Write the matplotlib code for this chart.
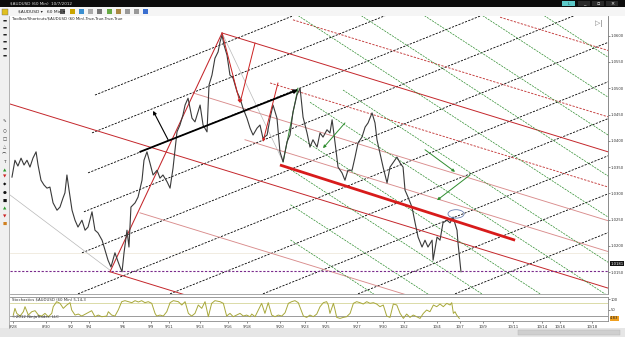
import matplotlib
matplotlib.use('Agg')
import matplotlib.pyplot as plt
from matplotlib.patches import Rectangle, Ellipse

W, H = 625, 337

# ---------------- data ----------------
date_labels = ['8/28', '8/30', '9/2', '9/4', '9/6', '9/9', '9/11', '9/13', '9/16', '9/18', '9/20',
               '9/23', '9/25', '9/27', '9/30', '10/2', '10/4', '10/7', '10/9', '10/11', '10/14',
               '10/16', '10/18']
date_pos = [0.18, 2.18, 3.70, 4.79, 6.85, 8.55, 9.64, 11.52, 13.21, 14.36, 16.36, 17.88, 19.15,
            21.03, 22.60, 23.88, 25.88, 27.27, 28.67, 30.48, 32.24, 33.33, 35.27]

price_day = [0.12, 0.30, 0.48, 0.67, 0.85, 1.03, 1.21, 1.39, 1.58, 1.70, 1.88, 2.06, 2.24, 2.42, 2.61,
             2.85, 3.03, 3.21, 3.33, 3.45, 3.58, 3.76, 3.94, 4.12, 4.36, 4.55, 4.73, 4.97, 5.15, 5.33,
             5.58, 5.76, 5.94, 6.12, 6.36, 6.55, 6.67, 6.79, 6.91, 7.09, 7.21, 7.33, 7.58, 7.76, 8.00,
             8.12, 8.30,
             8.48, 8.67, 8.91, 9.09, 9.27, 9.52, 9.70, 9.88, 10.12, 10.30, 10.48, 10.61, 10.79, 11.03,
             11.21, 11.39, 11.52, 11.70, 11.94, 12.06, 12.24, 12.42, 12.61, 12.73, 12.85, 12.97, 13.15,
             13.33, 13.52, 13.76, 13.94, 14.12, 14.36, 14.55, 14.73, 14.97, 15.15, 15.33, 15.58, 15.76,
             15.94, 16.18, 16.36, 16.55, 16.79, 16.97, 17.15, 17.39, 17.58,
             17.76, 18.00, 18.18, 18.36, 18.61, 18.79, 18.97, 19.21, 19.39, 19.52, 19.70, 19.88, 20.12,
             20.30, 20.48, 20.73, 20.91, 21.09, 21.33, 21.52, 21.70, 21.94, 22.12, 22.24, 22.42, 22.61,
             22.85, 23.03, 23.21, 23.45, 23.64, 23.82, 23.94, 24.12, 24.36, 24.55, 24.73, 24.97, 25.15,
             25.33, 25.58, 25.64, 25.88, 26.06, 26.24, 26.48, 26.67, 26.85, 27.09, 27.15, 27.27, 27.33]
price_val = [1.0331, 1.0363, 1.0352, 1.0367, 1.0354, 1.0363, 1.0350, 1.0367, 1.0379, 1.0354,
             1.0325, 1.0316, 1.0310, 1.0312, 1.0282, 1.0268, 1.0274, 1.0291, 1.0301, 1.0335,
             1.0306, 1.0268, 1.0249, 1.0236, 1.0249, 1.0230, 1.0236, 1.0265, 1.0230, 1.0225,
             1.0211, 1.0192, 1.0173, 1.0160, 1.0187, 1.0170, 1.0160, 1.0151, 1.0187, 1.0230,
             1.0198, 1.0274, 1.0282, 1.0293, 1.0325, 1.0363, 1.0379,
             1.0358, 1.0335, 1.0344, 1.0329, 1.0335, 1.0322, 1.0310, 1.0348, 1.0417, 1.0430,
             1.0449, 1.0468, 1.0481, 1.0443, 1.0436, 1.0455, 1.0468, 1.0430, 1.0417, 1.0506,
             1.0525, 1.0557, 1.0569, 1.0588, 1.0601, 1.0582, 1.0563, 1.0525, 1.0519, 1.0493,
             1.0481, 1.0462, 1.0443, 1.0424, 1.0411, 1.0424, 1.0430, 1.0405, 1.0411, 1.0443,
             1.0468, 1.0443, 1.0379, 1.0360, 1.0398, 1.0411, 1.0455, 1.0487, 1.0500,
             1.0445, 1.0415, 1.0388, 1.0402, 1.0388, 1.0415, 1.0407, 1.0421, 1.0415, 1.0440,
             1.0396, 1.0350, 1.0339, 1.0325, 1.0344, 1.0344, 1.0369, 1.0396, 1.0407, 1.0426,
             1.0434, 1.0453, 1.0434, 1.0402, 1.0377, 1.0350, 1.0320, 1.0350, 1.0358, 1.0369,
             1.0358, 1.0350, 1.0306, 1.0293, 1.0274, 1.0244, 1.0217, 1.0198, 1.0211, 1.0198,
             1.0211, 1.0173, 1.0217, 1.0211, 1.0244, 1.0249, 1.0244, 1.0255, 1.0230, 1.0206,
             1.0168, 1.0151]

stoch_day = [0.20, 0.30, 0.41, 0.61, 0.81, 0.91, 1.11, 1.32, 1.52, 1.72, 1.92, 2.12, 2.32, 2.53, 2.62,
             2.83, 3.03, 3.23, 3.44, 3.64, 3.74, 3.94, 4.14, 4.35, 4.65, 4.95, 5.15, 5.35, 5.56, 5.86,
             5.96, 6.16, 6.36, 6.56, 6.77, 6.97, 7.17, 7.38, 7.58, 7.78, 7.98, 8.18, 8.38, 8.59, 8.79,
             8.89, 9.09, 9.29, 9.50, 9.70, 9.90, 10.20, 10.41, 10.61, 10.81, 11.01, 11.21, 11.41, 11.62,
             11.82, 12.02, 12.22, 12.42, 12.73, 12.93, 13.13, 13.33, 13.53, 13.74, 13.94, 14.14, 14.34,
             14.55, 14.65, 14.85, 15.05, 15.25, 15.45, 15.65, 15.86, 16.06, 16.26, 16.47, 16.67, 16.87,
             17.07, 17.27, 17.47,
             17.78, 17.98, 18.18, 18.38, 18.59, 18.79, 18.99, 19.19, 19.29, 19.39, 19.60, 19.70, 19.80,
             20.00, 20.20, 20.40, 20.61, 20.81, 21.01, 21.21, 21.41, 21.62, 21.82, 22.02, 22.22, 22.42,
             22.62, 22.83, 23.03, 23.23, 23.44, 23.64, 23.84, 24.04, 24.24, 24.44, 24.65, 24.85, 25.05,
             25.25, 25.45, 25.66, 25.86, 26.06, 26.26, 26.47, 26.67, 26.77, 26.87, 26.97, 27.07, 27.23]
stoch_val = [24.5, 56.6, 32.5, 19.7, 40.5, 64.6, 24.5, 40.5, 45.4, 24.5, 19.7, 32.5, 16.5, 32.5, 64.6,
             88.6, 80.6, 56.6, 72.6, 83.8, 48.6, 24.5, 29.3, 19.7, 32.5, 45.4, 16.5, 24.5, 16.5, 19.7,
             40.5, 24.5, 19.7, 48.6, 88.6, 93.4, 88.6, 83.8, 93.4, 87.0, 93.4, 83.8, 88.6, 80.6, 32.5,
             19.7, 24.5, 19.7, 40.5, 83.8, 93.4, 88.6, 72.6, 88.6, 32.5, 19.7, 32.5, 72.6, 56.6,
             88.6, 16.5, 80.6, 93.4, 88.6, 80.6, 19.7, 32.5, 16.5, 24.5, 32.5, 19.7, 24.5,
             16.5, 29.3, 16.5, 48.6, 80.6, 32.5, 83.8, 24.5, 16.5, 24.5, 19.7, 35.7, 80.6,
             88.6, 93.4, 83.8,
             19.7, 13.3, 24.5, 16.5, 29.3, 64.6, 83.8, 88.6, 72.6, 32.5, 80.6, 48.6, 13.3,
             8.5, 13.3, 16.5, 32.5, 80.6, 88.6, 83.8, 77.4, 88.6, 80.6, 83.8, 77.4, 64.6,
             72.6, 19.7, 13.3, 77.4, 72.6, 32.5, 8.5, 29.3, 13.3, 24.5, 16.5, 8.5, 32.5,
             48.6, 40.5, 72.6, 64.6, 77.4, 64.6, 80.6, 72.6, 83.8, 32.5, 40.5, 24.5, 8.5]

price_ticks = [1.0150, 1.0200, 1.0250, 1.0300, 1.0350, 1.0400, 1.0450, 1.0500, 1.0550, 1.0600]
last_price = 1.0152
marker_price = 1.0166
marker_text = '1.0181'
bid_line = 1.0187

# pitchfork / channel lines: start (day, price), common slope per family (price per day)
black_slope = 0.001255
black_start_day = [5.15, 4.97, 4.73, 4.48, 4.36, 4.12, 9.70, 15.33, 21.09, 26.97]
black_start_price = [1.0487, 1.0415, 1.0339, 1.0265, 1.0187, 1.0109, 1.0109, 1.0109, 1.0109, 1.0109]

red_slope = -0.000966
red_solid_day = [0.00, 12.85, 6.06]
red_solid_price = [1.0470, 1.0605, 1.0151]
red_dash_day = [17.15, 29.70, 15.76]
red_dash_price = [1.0630, 1.0635, 1.0510]
pink_day = [11.09, 14.24, 7.88]
pink_price = [1.0491, 1.0402, 1.0263]

green_slope = -0.002039
green_ref_day = 23.64
green_ref_price = [1.0816, 1.0740, 1.0668, 1.0590, 1.0512, 1.0426, 1.0362, 1.0282, 1.0210, 1.0143, 1.0076]
green_start_day = [17.0, 17.0, 17.0, 17.0, 17.0, 20.18, 18.18, 17.27, 17.0, 17.0, 17.0]

end_day = 36.5

# hand-drawn segments (day, price)
thick_red = [(16.36, 1.0354), (30.61, 1.0211)]
red_handle = [(6.06, 1.0151), (12.85, 1.0605)]
red_arrows = [((12.85, 1.0605), (13.94, 1.0472)), ((14.85, 1.0586), (13.94, 1.0472)),
              ((16.24, 1.0510), (15.33, 1.0398))]
black_thick_arrow = ((7.88, 1.0379), (17.45, 1.0497))
black_arrow = ((9.58, 1.0402), (8.67, 1.0457))
green_handle = [(16.55, 1.0360), (17.45, 1.0500)]
green_arrows = [((20.30, 1.0434), (18.97, 1.0386)), ((25.15, 1.0383), (26.97, 1.0341)),
                ((27.88, 1.0335), (25.88, 1.0287))]
gray_lines = [((0.0, 1.0297), (6.06, 1.0154)), ((12.85, 1.0605), (16.55, 1.0360))]
ellipse_center = (27.03, 1.0261)

# ---------------- figure ----------------
fig = plt.figure(figsize=(6.25, 3.37), dpi=100)
fig.patch.set_facecolor('#efefef')
SYM = ['DejaVu Sans', 'Noto Sans CJK SC']


def box(x0, y0, x1, y1):
    return [x0 / W, 1 - y1 / H, (x1 - x0) / W, (y1 - y0) / H]


def rect(x0, y0, x1, y1, fc, ec='none', lw=0.0, z=0):
    fig.add_artist(Rectangle((x0 / W, 1 - y1 / H), (x1 - x0) / W, (y1 - y0) / H,
                             transform=fig.transFigure, facecolor=fc, edgecolor=ec, lw=lw, zorder=z))


def ftext(x, y, s, **kw):
    fig.text(x / W, 1 - y / H, s, **kw)


# window chrome
rect(0, 0, 625, 7, '#0c0c0c')
ftext(10, 3.6, '$AUDUSD (60 Min)  10/7/2012', color='#dddddd', fontsize=3, va='center')
rect(562, 1, 575, 6, '#5cc9c9')
ftext(568.5, 3.6, 'L', color='#1a4a4a', fontsize=3, ha='center', va='center')
for x0, g in [(578, '_'), (592, '▫'), (606, '×')]:
    rect(x0, 1, x0 + 12, 6, '#2a2a2a')
    ftext(x0 + 6, 3.6, g, color='white', fontsize=3.5, ha='center', va='center')
rect(0, 7, 625, 16, '#f5f5f5')
ftext(18, 11.6, '$AUDUSD ▾   60 Min ▾', color='#222222', fontsize=3.2, va='center')
for x0, c in [(60, '#555'), (70, '#c9a400'), (79, '#3a8fd0'), (88, '#aaa'), (97, '#777'),
              (107, '#66aa44'), (116, '#aa8844'), (125, '#999'), (134, '#999'), (143, '#3a6fd0')]:
    rect(x0, 9, x0 + 5, 14, c)
rect(2, 9, 8, 15, '#e0c020', ec='#666', lw=0.3)
# left tool strip
rect(0, 16, 9, 330, '#f0f0f0')
fig.add_artist(plt.Line2D([9 / W, 9 / W], [1 - 16 / H, 1 - 328 / H], transform=fig.transFigure,
                          color='#9a9a9a', lw=0.5))
icons = [(21, '▬', '#222'), (28, '▬', '#222'), (35, '▬', '#222'), (42, '▬', '#222'), (49, '▬', '#222'),
         (56, '▬', '#222'), (121, '✎', '#333'), (131, '○', '#333'), (139, '□', '#333'), (147, '△', '#333'),
         (154, '⌒', '#333'), (162, 'T', '#333'), (170, '▲', '#2a9a2a'), (177, '▼', '#cc2222'),
         (185, '◆', '#111'), (193, '●', '#111'), (201, '■', '#111'), (209, '▲', '#2a9a2a'),
         (216, '▼', '#cc2222'), (224, '■', '#d08020')]
for y, g, c in icons:
    ftext(4.5, y, g, color=c, fontsize=3.2, ha='center', va='center', family=SYM)
# chart background
rect(9.5, 16, 625, 328, 'white')
# scrollbar
rect(0, 328, 625, 337, '#e6e6e6')
rect(518, 330, 620, 335, '#cfcfcf', ec='#b5b5b5', lw=0.3)

# ---------------- price panel ----------------
ax = fig.add_axes(box(9.5, 16, 608, 294))
ax.set_facecolor('none')
ax.set_xlim(-0.03, 36.24)
ax.set_ylim(1.01087, 1.06373)
for s in ['left', 'top']:
    ax.spines[s].set_visible(False)
ax.spines['right'].set_color('#777777')
ax.spines['right'].set_linewidth(0.6)
ax.spines['bottom'].set_color('#9a9a9a')
ax.spines['bottom'].set_linewidth(0.6)
ax.set_xticks([])
ax.yaxis.tick_right()
ax.set_yticks(price_ticks)
ax.set_yticklabels([f'{v:.4f}' for v in price_ticks])
ax.tick_params(axis='y', labelsize=2.7, length=1.2, width=0.4, pad=0.6, colors='#333333')


def family(start_days, start_prices, slope, **kw):
    for d0, p0 in zip(start_days, start_prices):
        ax.plot([d0, end_day], [p0, p0 + slope * (end_day - d0)], **kw)


# black ascending dashed lines
family(black_start_day, black_start_price, black_slope, color='black', lw=0.6,
       dashes=(2.6, 1.6), zorder=2)
# red pitchfork
family(red_solid_day, red_solid_price, red_slope, color='#c4262b', lw=0.7, zorder=2)
family(red_dash_day, red_dash_price, red_slope, color='#c43a3a', lw=0.65, dashes=(2.5, 1.5), zorder=2)
family(pink_day, pink_price, red_slope, color='#d98c8c', lw=0.65, zorder=2)
# green lines
g_start_price = [p + green_slope * (d - green_ref_day) for p, d in zip(green_ref_price, green_start_day)]
family(green_start_day, g_start_price, green_slope, color='#2f8d2f', lw=0.5, dashes=(3, 1.4), zorder=2)

# gray guides
for (a, b) in gray_lines:
    ax.plot([a[0], b[0]], [a[1], b[1]], color='#b8b8b8', lw=0.5, zorder=2)
ax.axhline(bid_line, color='#ece4d4', lw=0.5, zorder=1)
ax.axhline(last_price, color='#7a2a8c', lw=0.8, dashes=(2, 1.5), zorder=3)

# price
ax.plot(price_day, price_val, color='#3a3a3a', lw=0.8, zorder=4)

# drawn objects
ax.plot(*zip(*red_handle), color='#c4262b', lw=0.75, zorder=3)
ax.plot(*zip(*thick_red), color='#d81b1b', lw=2.0, solid_capstyle='butt', zorder=5)
for a, b in red_arrows:
    ax.annotate('', xy=b, xytext=a, arrowprops=dict(arrowstyle='-|>', color='#cc2020', lw=0.7,
                                                    mutation_scale=4, shrinkA=0, shrinkB=0), zorder=5)
a, b = black_thick_arrow
ax.annotate('', xy=b, xytext=a, arrowprops=dict(arrowstyle='-|>', color='black', lw=1.3,
                                                mutation_scale=5, shrinkA=0, shrinkB=0), zorder=5)
a, b = black_arrow
ax.annotate('', xy=b, xytext=a, arrowprops=dict(arrowstyle='-|>', color='black', lw=0.8,
                                                mutation_scale=5, shrinkA=0, shrinkB=0), zorder=5)
ax.plot(*zip(*green_handle), color='#2f8d2f', lw=0.7, zorder=3)
for a, b in green_arrows:
    ax.annotate('', xy=b, xytext=a, arrowprops=dict(arrowstyle='-|>', color='#2f8d2f', lw=0.7,
                                                    mutation_scale=4, shrinkA=0, shrinkB=0), zorder=5)
ax.add_patch(Ellipse(ellipse_center, 0.97, 0.0016, facecolor='none', edgecolor='#6a7fb0', lw=0.6, zorder=5))

ax.text(0.15, 1.0632, 'Toolbar/Shortcuts/$AUDUSD (60 Min),True,True,True,True', fontsize=2.8,
        color='#222222', va='center')
ax.text(35.7, 1.0623, '▷|', fontsize=5, color='#777777', ha='center', va='center', family=SYM)

# last price marker on axis
ax.annotate(marker_text, xy=(1.0, marker_price), xycoords=('axes fraction', 'data'),
            xytext=(1.5, 0), textcoords='offset points', fontsize=2.7, color='white', va='center',
            annotation_clip=False,
            bbox=dict(boxstyle='square,pad=0.12', fc='#111111', ec='none'))

# ---------------- oscillator ----------------
ox = fig.add_axes(box(9.5, 297, 608, 321))
ox.set_facecolor('none')
ox.set_xlim(-0.03, 36.24)
ox.set_ylim(-4, 111)
ox.spines['left'].set_visible(False)
for s in ['top', 'bottom', 'right']:
    ox.spines[s].set_color('#8a8a8a')
    ox.spines[s].set_linewidth(0.6)
ox.axhline(80, color='#d6d69a', lw=0.6)
ox.axhline(20, color='#8a8a8a', lw=0.6)
ox.plot(stoch_day, stoch_val, color='#a8a83a', lw=0.7)
ox.yaxis.tick_right()
ox.set_yticks([100, 50])
ox.set_yticklabels(['100', '50'])
ox.tick_params(axis='y', labelsize=2.7, length=1.2, width=0.4, pad=0.6, colors='#333333')
ox.set_xticks(date_pos)
ox.set_xticklabels(date_labels)
ox.tick_params(axis='x', labelsize=2.8, length=1.5, width=0.4, pad=1.2, colors='#333333')
ox.text(0.15, 97, 'Stochastics $AUDUSD (60 Min) 5,14,3', fontsize=2.8, color='#333333', va='center')
ox.text(0.15, 16, '©2012 NinjaTrader, LLC', fontsize=2.8, color='#333333', va='center')
ox.annotate('4.83', xy=(1.0, 8.5), xycoords=('axes fraction', 'data'), xytext=(1.5, 0),
            textcoords='offset points', fontsize=2.7, color='#222222', va='center',
            annotation_clip=False, bbox=dict(boxstyle='square,pad=0.12', fc='#f0a020', ec='none'))

fig.savefig('out.png', dpi=100, facecolor=fig.get_facecolor())
